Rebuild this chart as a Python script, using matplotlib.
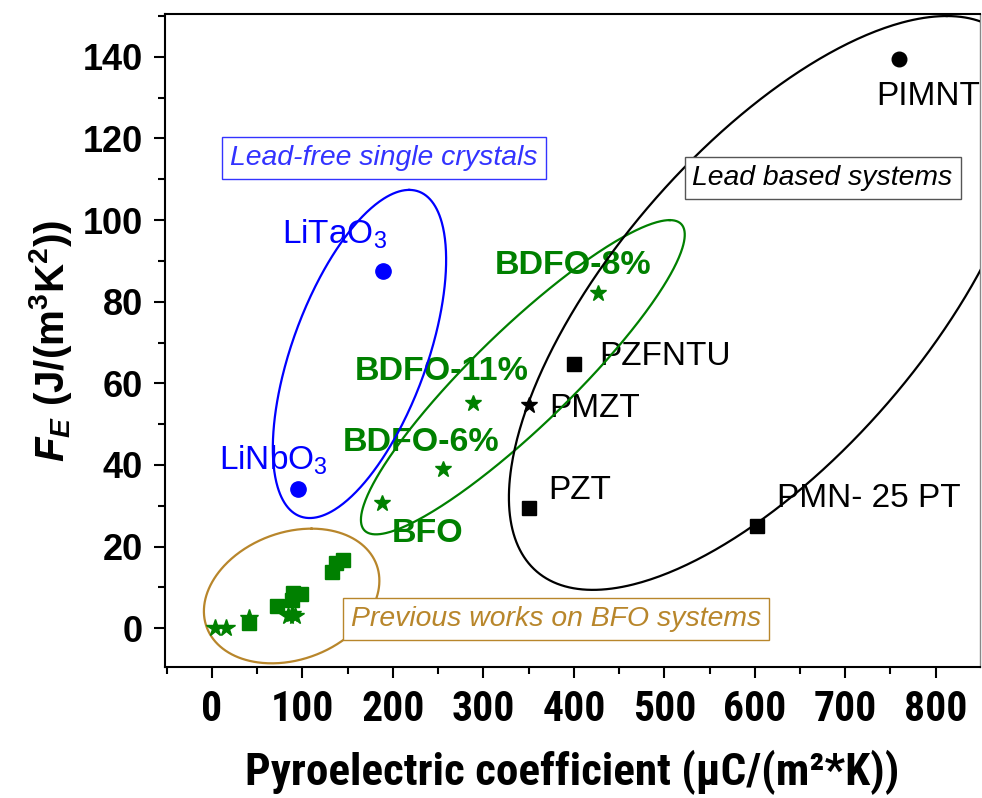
import numpy as np
import matplotlib
matplotlib.use('Agg')
import matplotlib.pyplot as plt
from matplotlib import font_manager
from matplotlib.font_manager import FontProperties
from matplotlib.ticker import MultipleLocator

# data
lead_free_x = [95, 189]
lead_free_y = [34, 87.5]
lead_free_names = ['LiNbO$_3$', 'LiTaO$_3$']

lead_sq_x = [350, 400, 602]
lead_sq_y = [29.4, 64.7, 25]
lead_sq_names = ['PZT', 'PZFNTU', 'PMN- 25 PT']
lead_star_x = [350.7]
lead_star_y = [54.7]
lead_star_names = ['PMZT']
lead_circ_x = [760]
lead_circ_y = [139.5]
lead_circ_names = ['PIMNT']

bdfo_x = [188, 255.6, 288, 426.5]
bdfo_y = [30.7, 39.1, 55.3, 82.1]
bdfo_names = ['BFO', 'BDFO-6%', 'BDFO-11%', 'BDFO-8%']

prev_sq_x = [40.4, 71.6, 88, 90, 98, 133, 136.6, 144.6]
prev_sq_y = [1.3, 5.4, 7.0, 8.7, 8.3, 13.8, 15.9, 16.8]
prev_star_x = [3.6, 15.7, 40.4, 84, 88, 91.5]
prev_star_y = [0, 0.1, 2.6, 2.9, 3.6, 2.9]

# label offsets (points)
lead_free_off = [(-57, 14), (-73, 20)]
lead_sq_off = [(14, 7), (18, -0.5), (15, 13.5)]
lead_star_off = [(14.5, -8.5)]
lead_circ_off = [(-17, -33.5)]
bdfo_off = [(7, -28), (-72, 13), (-85, 16), (-74, 14)]

# group ellipses: cx, cy, half width, half height, x-offset of top point
ell_blue = (163, 67.2, 95.8, 40.2, 55)
ell_green = (343.6, 61.5, 179, 38.5, 162.4)
ell_black = (616.6, 79.7, 288.4, 70.3, 195.6)
ell_brown = (88, 7.9, 97, 16.5, 22)

GREEN = '#008000'
BLUE = '#0000ff'
BROWN = '#b8862b'

plt.rcParams['font.family'] = ['Liberation Sans', 'DejaVu Sans']
plt.rcParams['mathtext.fontset'] = 'custom'
plt.rcParams['mathtext.rm'] = 'Liberation Sans'
plt.rcParams['mathtext.it'] = 'Liberation Sans:italic'
plt.rcParams['mathtext.bf'] = 'Liberation Sans:bold'
plt.rcParams['mathtext.bfit'] = 'Liberation Sans:bold:italic'


def narrow_bold():
    # look for a condensed bold sans face, Arial Narrow-like
    prefs = ['Liberation Sans Narrow', 'Arial Narrow', 'Roboto Condensed',
             'Open Sans Condensed', 'Noto Sans Condensed', 'Roboto', 'Open Sans', 'Noto Sans']
    fl = font_manager.fontManager.ttflist
    for p in prefs:
        for f in fl:
            wt = f.weight if isinstance(f.weight, int) else 700 * (f.weight == 'bold')
            cond = 'Narrow' in f.name or 'Condensed' in f.name or 'condensed' in str(f.stretch)
            if f.name == p and wt >= 700 and cond and 'italic' not in f.style:
                return FontProperties(fname=f.fname)
    return None


def ellipse_xy(cx, cy, hx, hy, tx, n=500):
    t = np.linspace(0, 2 * np.pi, n)
    vx = np.sqrt(hx ** 2 - tx ** 2)
    return cx + tx * np.cos(t) + vx * np.sin(t), cy + hy * np.cos(t)


def main():
    fig = plt.figure(figsize=(9.82, 7.98), dpi=100)
    ax = fig.add_axes([165 / 982, 1 - 667 / 798, 815 / 982, 653 / 798])

    for e, c in [(ell_blue, BLUE), (ell_green, GREEN), (ell_black, 'black'), (ell_brown, BROWN)]:
        ex, ey = ellipse_xy(*e)
        ax.plot(ex, ey, color=c, lw=1.6, zorder=4)

    ax.plot(prev_sq_x, prev_sq_y, 's', color=GREEN, ms=10.5, ls='none', zorder=5)
    ax.plot(prev_star_x, prev_star_y, '*', color=GREEN, ms=13, ls='none', zorder=5)
    ax.plot(bdfo_x, bdfo_y, '*', color=GREEN, ms=12, ls='none', zorder=5)
    ax.plot(lead_free_x, lead_free_y, 'o', color=BLUE, ms=11, ls='none', zorder=5)
    ax.plot(lead_sq_x, lead_sq_y, 's', color='black', ms=9.5, ls='none', zorder=5)
    ax.plot(lead_star_x, lead_star_y, '*', color='black', ms=12, ls='none', zorder=5)
    ax.plot(lead_circ_x, lead_circ_y, 'o', color='black', ms=10.5, ls='none', zorder=5)

    groups = [
        (lead_free_x, lead_free_y, lead_free_names, lead_free_off, BLUE, 'normal', 24),
        (lead_sq_x, lead_sq_y, lead_sq_names, lead_sq_off, 'black', 'normal', 24),
        (lead_star_x, lead_star_y, lead_star_names, lead_star_off, 'black', 'normal', 24),
        (lead_circ_x, lead_circ_y, lead_circ_names, lead_circ_off, 'black', 'normal', 24),
        (bdfo_x, bdfo_y, bdfo_names, bdfo_off, GREEN, 'bold', 24.5),
    ]
    for xs, ys, labels, offs, col, wt, fs in groups:
        for x, y, lab, off in zip(xs, ys, labels, offs):
            ax.annotate(lab, (x, y), xytext=off, textcoords='offset points',
                        ha='left', va='baseline', fontsize=fs, color=col,
                        fontweight=wt, zorder=3)

    boxes = [
        ('Lead-free single crystals', 190, 115.2, '#3333ff', '#3333ff'),
        ('Lead based systems', 675, 110.3, 'black', '#555555'),
        ('Previous works on BFO systems', 380.7, 2.3, BROWN, BROWN),
    ]
    for txt, x, y, col, ec in boxes:
        ax.text(x, y, txt, ha='center', va='center', fontsize=20.4, style='italic',
                color=col, zorder=6,
                bbox=dict(boxstyle='square,pad=0.28', fc='white', ec=ec, lw=1))

    ax.set_xlim(-52, 849)
    ax.set_ylim(-9.5, 150.5)
    ax.xaxis.set_major_locator(MultipleLocator(100))
    ax.xaxis.set_minor_locator(MultipleLocator(50))
    ax.yaxis.set_major_locator(MultipleLocator(20))
    ax.yaxis.set_minor_locator(MultipleLocator(10))
    ax.tick_params(which='both', direction='out', width=1.5, top=False, right=False)
    ax.tick_params(which='major', length=8)
    ax.tick_params(which='minor', length=5)
    ax.tick_params(axis='x', pad=8)
    ax.tick_params(axis='y', pad=8)

    nfp = narrow_bold()
    for lab in ax.get_xticklabels():
        if nfp is not None:
            lab.set_fontproperties(nfp)
            lab.set_fontsize(30)
        else:
            lab.set_fontweight('bold')
            lab.set_fontsize(26)
    for lab in ax.get_yticklabels():
        lab.set_fontweight('bold')
        lab.set_fontsize(26)

    for s in ['left', 'bottom', 'top']:
        ax.spines[s].set_linewidth(1.5)
    ax.spines['right'].set_linewidth(1)
    ax.spines['right'].set_color('#888888')

    xl = ax.set_xlabel('Pyroelectric coefficient (\u03bcC/(m\u00b2*K))', labelpad=14)
    if nfp is not None:
        xl.set_fontproperties(nfp)
        xl.set_fontsize(32.5)
    else:
        xl.set_fontweight('bold')
        xl.set_fontsize(28)
    ax.set_ylabel(r'$\mathbfit{F}_{\mathbfit{E}}$ (J/(m$^{\mathbf{3}}$K$^{\mathbf{2}}$))',
                  fontweight='bold', fontsize=29, labelpad=6)

    fig.savefig('out.png', dpi=100)


if __name__ == '__main__':
    main()
